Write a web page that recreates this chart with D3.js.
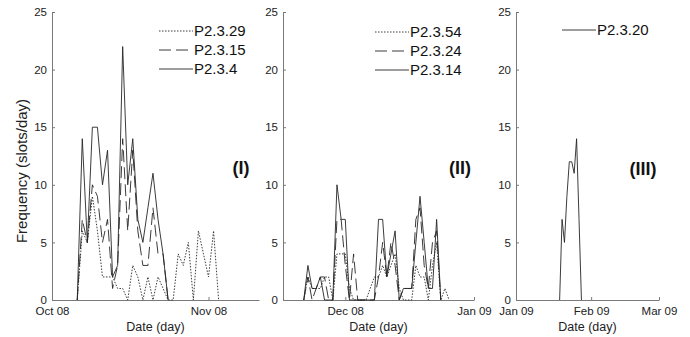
<!DOCTYPE html>
<html>
<head>
<meta charset="utf-8">
<script src="https://cdn.jsdelivr.net/npm/d3@7"></script>
<style>
  body { margin: 0; background: #fff; }
  text { font-family: "Liberation Sans", Arial, sans-serif; }
</style>
</head>
<body>
<svg id="chart" width="690" height="337"></svg>
<script>
// Frequency of slots per day, three panels

const WIDTH = 690;
const HEIGHT = 337;
const Y_TOP = 12;
const Y_BOTTOM = 300;

const yTicks = [0, 5, 10, 15, 20, 25];
const panelNames = ["(I)", "(II)", "(III)"];

// panel I, one value per day starting at the given date
const p1Start = "2008-10-06";
const p2_3_29 = [0, 6, 5, 9, 6, 2, 2, 2, 1, 1, 0, 3, 2, 0, 2, 0, 2, 1, 0, 0, 4, 3, 5, 0, 6, 4, 2, 6, 0];
const p2_3_15 = [0, 7, 5, 10, 9, 5, 7, 1, 3, 14, 6, 13, 6, 3, 3, 8, 4, 4, 0];
const p2_3_4  = [0, 14, 5, 15, 15, 10, 13, 2, 3, 22, 10, 14, 7, 5, 8, 11, 7, 4, 0];

// panel II
const p2Start = "2008-11-21";
const p2_3_54 = [0, 2, 1, 1, 1, 2, 2, 0, 4, 4, 4, 1, 0, 0, 0, 0, 1, 2, 2, 3, 2, 3, 4, 1, 0, 0, 0, 3, 2, 2, 0, 3, 5, 0, 1, 0];
const p2_3_24 = [0, 2, 0, 1, 2, 2, 0, 0, 7, 7, 3, 0, 4, 0, 0, 0, 0, 0, 2, 5, 2, 5, 3, 0, 1, 1, 1, 7, 8, 3, 1, 5, 6, 0];
const p2_3_14 = [0, 3, 1, 1, 2, 0, 0, 0, 10, 7, 7, 0, 0, 0, 0, 0, 0, 0, 7, 7, 2, 4, 6, 0, 1, 1, 1, 5, 9, 5, 1, 1, 7, 0];

// panel III
const p3Start = "2009-01-19";
const p2_3_20 = [0, 7, 5, 9, 12, 12, 11, 14, 7, 0];

const parse = d3.timeParse("%Y-%m-%d");
const fmt = d3.timeFormat("%b %y");

function toPoints(start, values) {
  const s = parse(start);
  return values.map((v, i) => ({ date: d3.timeDay.offset(s, i), value: v }));
}

const DOTTED = "1.5,1.5";
const DASHED = "12,5";

const panels = [
  {
    name: panelNames[0],
    range: [52, 259],
    domain: ["2008-10-01", "2008-11-11"],
    ticks: ["2008-10-01", "2008-11-01"],
    legend: { x: 159, y: 31 },
    label: { x: 241, y: 174 },
    series: [
      { name: "P2.3.29", start: p1Start, values: p2_3_29, dash: DOTTED },
      { name: "P2.3.15", start: p1Start, values: p2_3_15, dash: DASHED },
      { name: "P2.3.4", start: p1Start, values: p2_3_4, dash: null }
    ]
  },
  {
    name: panelNames[1],
    range: [283, 474],
    domain: ["2008-11-16", "2009-01-01"],
    ticks: ["2008-12-01", "2009-01-01"],
    legend: { x: 375, y: 32 },
    label: { x: 460, y: 174 },
    series: [
      { name: "P2.3.54", start: p2Start, values: p2_3_54, dash: DOTTED },
      { name: "P2.3.24", start: p2Start, values: p2_3_24, dash: DASHED },
      { name: "P2.3.14", start: p2Start, values: p2_3_14, dash: null }
    ]
  },
  {
    name: panelNames[2],
    range: [516, 659],
    domain: ["2009-01-01", "2009-03-01"],
    ticks: ["2009-01-01", "2009-02-01", "2009-03-01"],
    legend: { x: 562, y: 30 },
    label: { x: 643, y: 175 },
    series: [
      { name: "P2.3.20", start: p3Start, values: p2_3_20, dash: null }
    ]
  }
];

const svg = d3.select("#chart");
svg.append("rect").attr("width", WIDTH).attr("height", HEIGHT).attr("fill", "#fff");

const y = d3.scaleLinear().domain([0, 25]).range([Y_BOTTOM, Y_TOP]);

panels.forEach(p => {
  const x = d3.scaleTime()
    .domain(p.domain.map(parse))
    .range(p.range);

  const g = svg.append("g");

  // y axis, ticks point inward like matlab
  const ya = g.append("g")
    .attr("transform", `translate(${p.range[0]},0)`)
    .call(d3.axisLeft(y).tickValues(yTicks).tickSize(-3).tickSizeOuter(0).tickPadding(5));

  const xa = g.append("g")
    .attr("transform", `translate(0,${Y_BOTTOM})`)
    .call(d3.axisBottom(x).tickValues(p.ticks.map(parse)).tickFormat(fmt)
      .tickSize(-3).tickSizeOuter(0).tickPadding(7));

  [ya, xa].forEach(a => {
    a.select(".domain").attr("stroke", "#7a7a7a");
    a.selectAll(".tick line").attr("stroke", "#7a7a7a");
    a.selectAll(".tick text").attr("fill", "#222").style("font-size", "11.5px");
  });

  g.append("text")
    .attr("x", (p.range[0] + p.range[1]) / 2)
    .attr("y", 331)
    .attr("text-anchor", "middle")
    .attr("fill", "#222")
    .style("font-size", "12.5px")
    .text("Date (day)");

  const line = d3.line()
    .x(d => x(d.date))
    .y(d => y(d.value));

  p.series.forEach((s, i) => {
    g.append("path")
      .datum(toPoints(s.start, s.values))
      .attr("d", line)
      .attr("fill", "none")
      .attr("stroke", "#262626")
      .attr("stroke-width", 0.9)
      .attr("stroke-dasharray", s.dash);

    // legend entry
    const ly = p.legend.y + i * 19;
    g.append("line")
      .attr("x1", p.legend.x).attr("x2", p.legend.x + 34)
      .attr("y1", ly).attr("y2", ly)
      .attr("stroke", "#262626")
      .attr("stroke-width", 0.9)
      .attr("stroke-dasharray", s.dash);
    g.append("text")
      .attr("x", p.legend.x + 35)
      .attr("y", ly + 5)
      .attr("fill", "#111")
      .style("font-size", "15px")
      .text(s.name);
  });

  g.append("text")
    .attr("x", p.label.x)
    .attr("y", p.label.y)
    .attr("text-anchor", "middle")
    .attr("fill", "#111")
    .style("font-size", "18px")
    .style("font-weight", "bold")
    .text(p.name);
});

svg.append("text")
  .attr("transform", "translate(27,171) rotate(-90)")
  .attr("text-anchor", "middle")
  .attr("fill", "#222")
  .style("font-size", "15px")
  .text("Frequency (slots/day)");
</script>
</body>
</html>
